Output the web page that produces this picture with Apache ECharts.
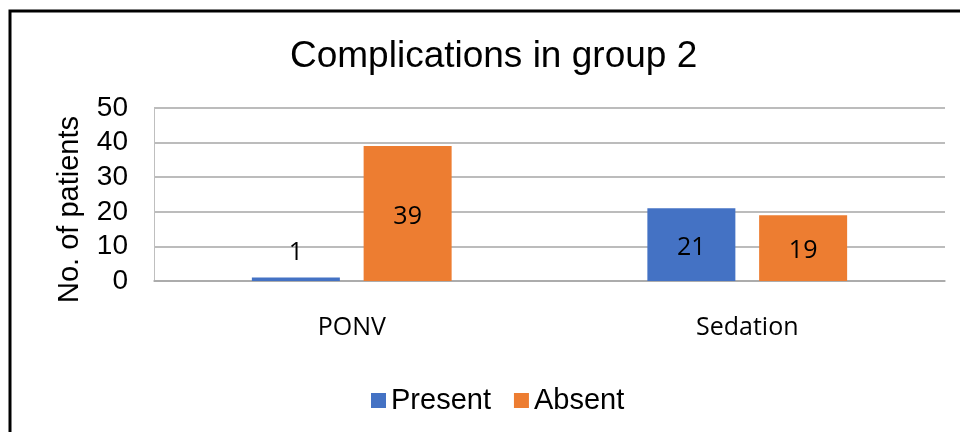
<!DOCTYPE html>
<html>
<head>
<meta charset="utf-8">
<script src="https://cdn.jsdelivr.net/npm/echarts@6/dist/echarts.min.js"></script>
<style>
  html, body { margin: 0; padding: 0; background: #fff; }
  #chart { width: 960px; height: 432px; }
</style>
</head>
<body>
<div id="chart"></div>
<script>
const categories = ['PONV', 'Sedation']
const present = [1, 21]
const absent = [39, 19]
const yTicks = [0, 10, 20, 30, 40, 50]

const chart = echarts.init(document.getElementById('chart'))

// data labels sit a bit below the bar centre in the original
const labelStyle = {
  show: true,
  position: 'inside',
  offset: [0, 3],
  fontFamily: 'Open Sans',
  fontSize: 25,
  color: '#000'
}

chart.setOption({
  animation: false,
  title: {
    text: 'Complications in group 2',
    left: 285,
    top: 33,
    textStyle: {
      fontFamily: 'Liberation Sans, Arial',
      fontSize: 37,
      fontWeight: 'normal',
      color: '#000'
    }
  },
  graphic: [
    {
      type: 'rect',
      shape: { x: 10, y: 11, width: 1000, height: 500 },
      style: { fill: 'none', stroke: '#000', lineWidth: 3 }
    }
  ],
  legend: {
    data: ['Present', 'Absent'],
    left: 366,
    top: 381,
    itemWidth: 15,
    itemHeight: 15,
    itemGap: 23,
    icon: 'rect',
    textStyle: {
      fontFamily: 'Liberation Sans, Arial',
      fontSize: 29,
      color: '#000'
    }
  },
  grid: {
    left: 154,
    right: 15,
    top: 108,
    bottom: 151
  },
  xAxis: {
    type: 'category',
    data: categories,
    axisTick: { show: false },
    axisLine: { lineStyle: { color: '#a6a6a6', width: 1.5 } },
    axisLabel: {
      margin: 34,
      fontFamily: 'Open Sans',
      fontSize: 25,
      color: '#000'
    }
  },
  yAxis: {
    type: 'value',
    min: yTicks[0],
    max: yTicks[yTicks.length - 1],
    interval: 10,
    name: 'No. of patients',
    nameLocation: 'middle',
    nameRotate: 90,
    nameGap: 70,
    nameTextStyle: {
      fontFamily: 'Liberation Sans, Arial',
      fontSize: 29,
      color: '#000',
      padding: [0, 30, 0, 0]
    },
    axisLine: { show: true, lineStyle: { color: '#bfbfbf', width: 1 } },
    axisTick: { show: false },
    axisLabel: {
      margin: 26,
      fontFamily: 'Liberation Sans, Arial',
      fontSize: 28,
      color: '#000'
    },
    splitLine: { lineStyle: { color: '#a6a6a6', width: 1.5 } }
  },
  series: [
    {
      name: 'Present',
      type: 'bar',
      data: present.map(v => v < 5
        ? { value: v, label: { position: 'top', distance: 12, offset: [0, 0] } }
        : v),
      barWidth: 88,
      barGap: '27%',
      itemStyle: { color: '#4472C4' },
      label: labelStyle
    },
    {
      name: 'Absent',
      type: 'bar',
      data: absent,
      barWidth: 88,
      itemStyle: { color: '#ED7D31' },
      label: labelStyle
    }
  ]
})
</script>
</body>
</html>
